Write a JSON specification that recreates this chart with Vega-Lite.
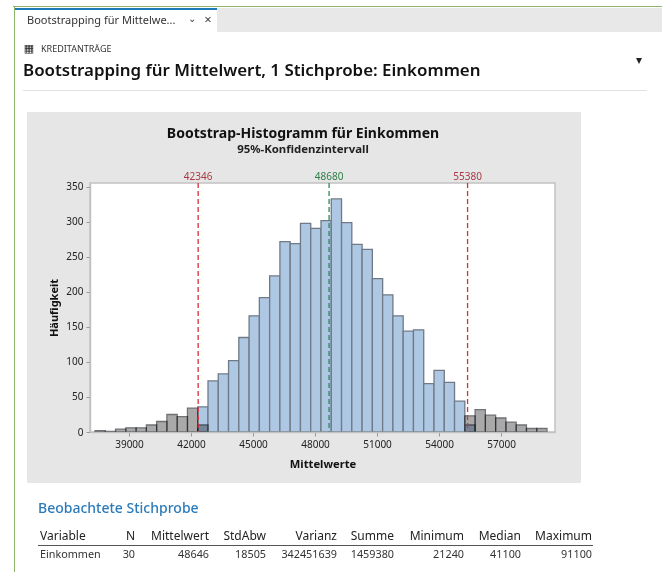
{
"$schema":"https://vega.github.io/schema/vega-lite/v6.json",
"width":465,"height":249,
"autosize":{"type":"none"},
"padding":{"left":90,"top":183,"right":107,"bottom":140},
"background":"white",
"config":{"view":{"stroke":null},"font":"Noto Sans"},
"datasets":{
"innerhalb":[
{"start":42325,"end":42822,"count":36},{"start":42822,"end":43319,"count":73},{"start":43319,"end":43816,"count":83},{"start":43816,"end":44313,"count":102},{"start":44313,"end":44810,"count":135},{"start":44810,"end":45307,"count":166},{"start":45307,"end":45804,"count":192},{"start":45804,"end":46301,"count":223},{"start":46301,"end":46798,"count":272},{"start":46798,"end":47295,"count":269},{"start":47295,"end":47792,"count":298},{"start":47792,"end":48289,"count":291},{"start":48289,"end":48786,"count":302},{"start":48786,"end":49283,"count":333},{"start":49283,"end":49780,"count":299},{"start":49780,"end":50277,"count":268},{"start":50277,"end":50774,"count":261},{"start":50774,"end":51271,"count":219},{"start":51271,"end":51768,"count":196},{"start":51768,"end":52265,"count":166},{"start":52265,"end":52762,"count":144},{"start":52762,"end":53259,"count":146},{"start":53259,"end":53756,"count":69},{"start":53756,"end":54253,"count":88},{"start":54253,"end":54750,"count":71},{"start":54750,"end":55247,"count":44},{"start":55247,"end":55744,"count":10}],
"ausserhalb":[
{"start":37355,"end":37852,"count":2},{"start":37852,"end":38349,"count":1},{"start":38349,"end":38846,"count":4},{"start":38846,"end":39343,"count":6},{"start":39343,"end":39840,"count":6},{"start":39840,"end":40337,"count":10},{"start":40337,"end":40834,"count":15},{"start":40834,"end":41331,"count":25},{"start":41331,"end":41828,"count":22},{"start":41828,"end":42325,"count":34},{"start":42325,"end":42822,"count":10},{"start":55247,"end":55744,"count":23},{"start":55744,"end":56241,"count":32},{"start":56241,"end":56738,"count":24},{"start":56738,"end":57235,"count":20},{"start":57235,"end":57732,"count":14},{"start":57732,"end":58229,"count":10},{"start":58229,"end":58726,"count":5},{"start":58726,"end":59223,"count":5}]
},
"layer":[
{"data":{"values":[{}]},"layer":[
{"mark":{"type":"rect","color":"#8fb56c"},"encoding":{"x":{"value":-77},"x2":{"value":572},"y":{"value":-177},"y2":{"value":-176}}},
{"mark":{"type":"rect","color":"#8fb56c"},"encoding":{"x":{"value":-76},"x2":{"value":-75},"y":{"value":-177},"y2":{"value":389}}},
{"mark":{"type":"rect","color":"#e8e8e8"},"encoding":{"x":{"value":127},"x2":{"value":572},"y":{"value":-175},"y2":{"value":-151}}},
{"mark":{"type":"rect","color":"#1f7ab8"},"encoding":{"x":{"value":-75},"x2":{"value":127},"y":{"value":-175},"y2":{"value":-173}}},
{"mark":{"type":"rect","color":"#e2e2e2"},"encoding":{"x":{"value":-67},"x2":{"value":557},"y":{"value":-93},"y2":{"value":-92}}},
{"mark":{"type":"rect","color":"#e6e6e6"},"encoding":{"x":{"value":-63},"x2":{"value":491},"y":{"value":-71},"y2":{"value":300}}},
{"mark":{"type":"rect","color":"white","stroke":"#c2c2c2","strokeWidth":1.5},"encoding":{"x":{"value":0},"x2":{"value":465},"y":{"value":0},"y2":{"value":249}}},
{"mark":{"type":"rect","color":"#555"},"encoding":{"x":{"value":-52},"x2":{"value":503},"y":{"value":362},"y2":{"value":363}}}
]},
{"data":{"values":[{"t":"Bootstrapping für Mittelwe..."}]},"mark":{"type":"text","align":"left","baseline":"middle","fontSize":11,"color":"#333"},"encoding":{"text":{"field":"t"},"x":{"value":-63},"y":{"value":-162}}},
{"data":{"values":[{"t":"⌄"}]},"mark":{"type":"text","align":"center","baseline":"middle","fontSize":10,"color":"#444"},"encoding":{"text":{"field":"t"},"x":{"value":102},"y":{"value":-164}}},
{"data":{"values":[{"t":"×"}]},"mark":{"type":"text","align":"center","baseline":"middle","fontSize":13,"color":"#444"},"encoding":{"text":{"field":"t"},"x":{"value":118},"y":{"value":-163}}},
{"data":{"values":[{"t":"▦"}]},"mark":{"type":"text","align":"center","baseline":"middle","fontSize":11,"color":"#222","font":"DejaVu Sans"},"encoding":{"text":{"field":"t"},"x":{"value":-61},"y":{"value":-134}}},
{"data":{"values":[{"t":"KREDITANTRÄGE"}]},"mark":{"type":"text","align":"left","baseline":"middle","fontSize":9,"color":"#333"},"encoding":{"text":{"field":"t"},"x":{"value":-49},"y":{"value":-134}}},
{"data":{"values":[{"t":"Bootstrapping für Mittelwert, 1 Stichprobe: Einkommen"}]},"mark":{"type":"text","align":"left","baseline":"middle","fontSize":16.9,"fontWeight":600,"color":"#111"},"encoding":{"text":{"field":"t"},"x":{"value":-67},"y":{"value":-112}}},
{"data":{"values":[{"t":"▾"}]},"mark":{"type":"text","align":"center","baseline":"middle","fontSize":12,"color":"#222","font":"DejaVu Sans"},"encoding":{"text":{"field":"t"},"x":{"value":549},"y":{"value":-123}}},
{"data":{"values":[{"t":"Bootstrap-Histogramm für Einkommen"}]},"mark":{"type":"text","align":"center","baseline":"middle","fontSize":14,"fontWeight":"bold","color":"#111"},"encoding":{"text":{"field":"t"},"x":{"value":213},"y":{"value":-49}}},
{"data":{"values":[{"t":"95%-Konfidenzintervall"}]},"mark":{"type":"text","align":"center","baseline":"middle","fontSize":11.4,"fontWeight":"bold","color":"#222"},"encoding":{"text":{"field":"t"},"x":{"value":213},"y":{"value":-33}}},
{"data":{"values":[{"t":"Beobachtete Stichprobe"}]},"mark":{"type":"text","align":"left","baseline":"middle","fontSize":14,"fontWeight":500,"color":"#2b7bba"},"encoding":{"text":{"field":"t"},"x":{"value":-52},"y":{"value":326}}},
{"data":{"name":"innerhalb"},"mark":{"type":"rect","color":"#aec8e4","stroke":"#6f7a86","strokeWidth":1.3},"encoding":{
"x":{"field":"start","type":"quantitative","scale":{"domain":[37113,59610],"nice":false,"zero":false},"axis":{"zindex":1,"values":[39000,42000,45000,48000,51000,54000,57000],"format":"d","grid":false,"title":"Mittelwerte","titleFontSize":11.2,"titleFontWeight":"bold","titleColor":"#111","titlePadding":9,"labelFontSize":10,"labelColor":"#222","labelPadding":3,"tickColor":"#999","tickSize":4,"domainColor":"#c2c2c2","domainWidth":1.5,"labelOverlap":false}},
"x2":{"field":"end"},
"y":{"field":"count","type":"quantitative","scale":{"domain":[0,355.7],"nice":false},"axis":{"zindex":1,"values":[0,50,100,150,200,250,300,350],"tickCount":8,"labelOverlap":false,"grid":false,"title":"Häufigkeit","titleFontSize":11,"titleFontWeight":"bold","titleColor":"#111","titlePadding":6,"labelFontSize":10,"labelColor":"#222","labelPadding":3,"tickColor":"#999","tickSize":4,"domainColor":"#c2c2c2","domainWidth":1.5}},
"y2":{"datum":0}}},
{"data":{"name":"ausserhalb"},"mark":{"type":"rect","color":"#a9a9a9","stroke":"#6f7276","strokeWidth":1.3,"blend":"multiply"},"encoding":{
"x":{"field":"start","type":"quantitative"},"x2":{"field":"end"},"y":{"field":"count","type":"quantitative","axis":{"values":[0,50,100,150,200,250,300,350],"tickCount":8,"labelOverlap":false,"zindex":1,"grid":false}},"y2":{"datum":0}}},
{"data":{"values":[{"v":42346,"l":"42346"},{"v":55380,"l":"55380"}]},"layer":[
{"mark":{"type":"rule","color":"#d8323c","strokeDash":[5,3],"strokeWidth":1.3},"encoding":{"x":{"field":"v","type":"quantitative"}}},
{"mark":{"type":"text","color":"#a83a44","fontSize":10,"baseline":"middle"},"encoding":{"x":{"field":"v","type":"quantitative"},"y":{"value":-6},"text":{"field":"l"}}}
]},
{"data":{"values":[{"v":48680,"l":"48680"}]},"layer":[
{"mark":{"type":"rule","color":"#2e8b57","strokeDash":[5,3],"strokeWidth":1.3},"encoding":{"x":{"field":"v","type":"quantitative"}}},
{"mark":{"type":"text","color":"#2e7d46","fontSize":10,"baseline":"middle"},"encoding":{"x":{"field":"v","type":"quantitative"},"y":{"value":-6},"text":{"field":"l"}}}
]},
{"encoding":{"y":{"value":353},"size":{"value":12},"color":{"value":"#222222"},"text":{"field":"t"}},"layer":[
{"data":{"values":[{"t":"Variable"}]},"mark":{"type":"text","align":"left","baseline":"middle"},"encoding":{"x":{"value":-50}}},
{"data":{"values":[{"t":"N"}]},"mark":{"type":"text","align":"right","baseline":"middle"},"encoding":{"x":{"value":45}}},
{"data":{"values":[{"t":"Mittelwert"}]},"mark":{"type":"text","align":"right","baseline":"middle"},"encoding":{"x":{"value":119}}},
{"data":{"values":[{"t":"StdAbw"}]},"mark":{"type":"text","align":"right","baseline":"middle"},"encoding":{"x":{"value":176}}},
{"data":{"values":[{"t":"Varianz"}]},"mark":{"type":"text","align":"right","baseline":"middle"},"encoding":{"x":{"value":247}}},
{"data":{"values":[{"t":"Summe"}]},"mark":{"type":"text","align":"right","baseline":"middle"},"encoding":{"x":{"value":304}}},
{"data":{"values":[{"t":"Minimum"}]},"mark":{"type":"text","align":"right","baseline":"middle"},"encoding":{"x":{"value":374}}},
{"data":{"values":[{"t":"Median"}]},"mark":{"type":"text","align":"right","baseline":"middle"},"encoding":{"x":{"value":431}}},
{"data":{"values":[{"t":"Maximum"}]},"mark":{"type":"text","align":"right","baseline":"middle"},"encoding":{"x":{"value":502}}}
]},
{"encoding":{"y":{"value":372},"size":{"value":10.8},"color":{"value":"#333333"},"text":{"field":"t"}},"layer":[
{"data":{"values":[{"t":"Einkommen"}]},"mark":{"type":"text","align":"left","baseline":"middle"},"encoding":{"x":{"value":-50}}},
{"data":{"values":[{"t":"30"}]},"mark":{"type":"text","align":"right","baseline":"middle"},"encoding":{"x":{"value":45}}},
{"data":{"values":[{"t":"48646"}]},"mark":{"type":"text","align":"right","baseline":"middle"},"encoding":{"x":{"value":119}}},
{"data":{"values":[{"t":"18505"}]},"mark":{"type":"text","align":"right","baseline":"middle"},"encoding":{"x":{"value":176}}},
{"data":{"values":[{"t":"342451639"}]},"mark":{"type":"text","align":"right","baseline":"middle"},"encoding":{"x":{"value":247}}},
{"data":{"values":[{"t":"1459380"}]},"mark":{"type":"text","align":"right","baseline":"middle"},"encoding":{"x":{"value":304}}},
{"data":{"values":[{"t":"21240"}]},"mark":{"type":"text","align":"right","baseline":"middle"},"encoding":{"x":{"value":374}}},
{"data":{"values":[{"t":"41100"}]},"mark":{"type":"text","align":"right","baseline":"middle"},"encoding":{"x":{"value":431}}},
{"data":{"values":[{"t":"91100"}]},"mark":{"type":"text","align":"right","baseline":"middle"},"encoding":{"x":{"value":502}}}
]}
]
}
